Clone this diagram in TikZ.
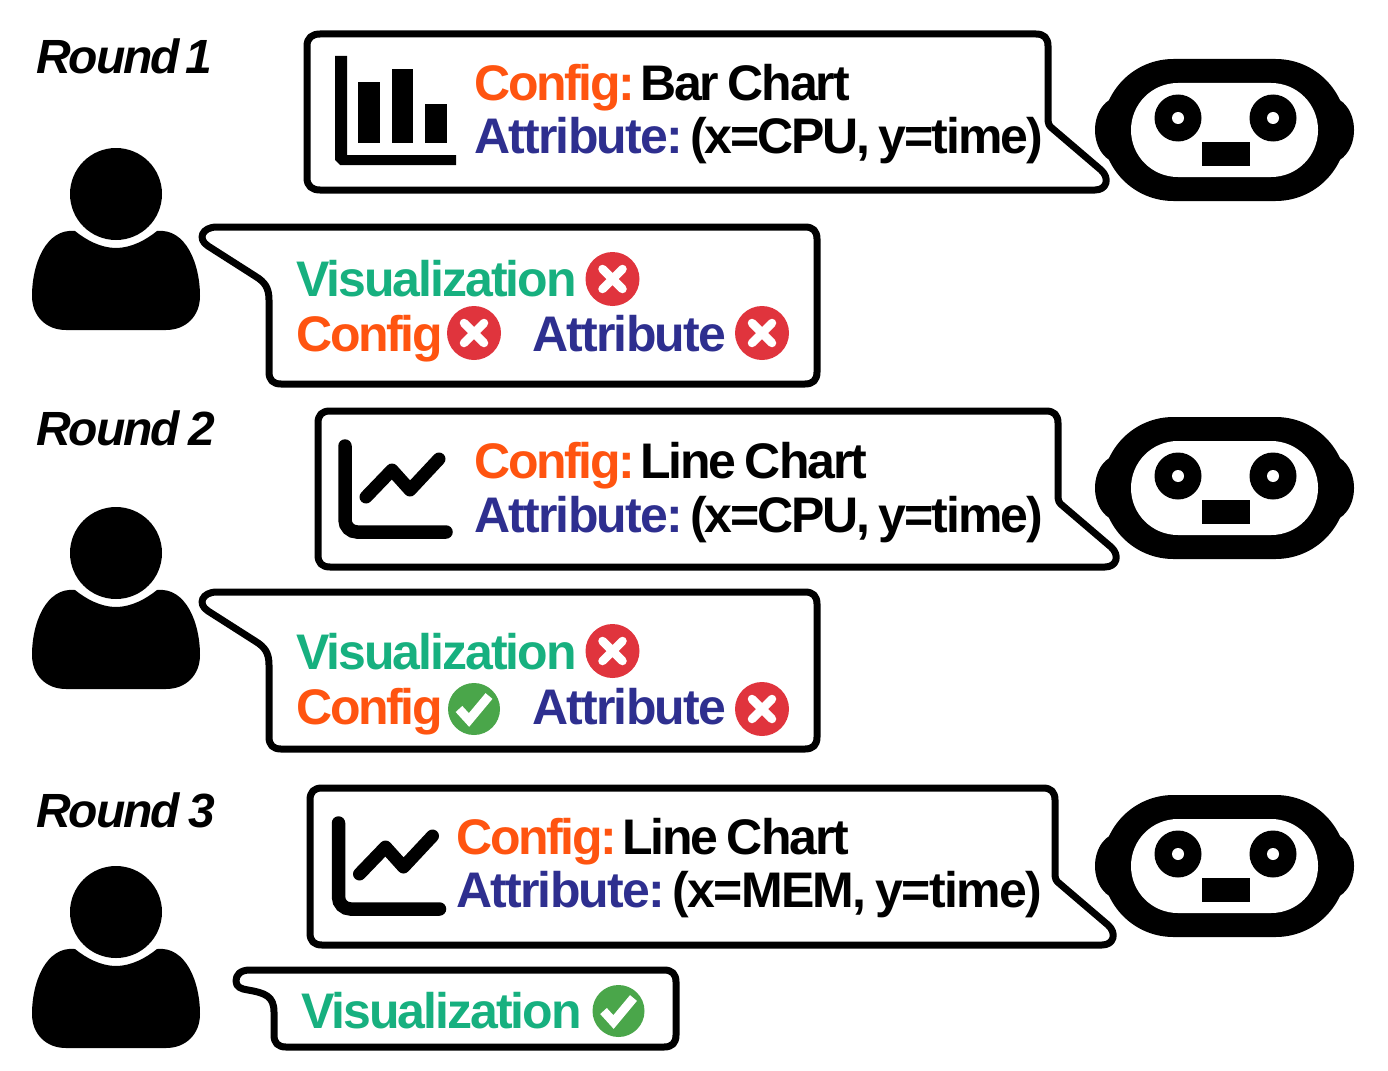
\documentclass[tikz,border=0pt]{standalone}
\usepackage{fontspec}
\setmainfont[LetterSpace=-4.2,WordSpace=0.7]{Liberation Sans}
\definecolor{cfg}{HTML}{FF5410}
\definecolor{attr}{HTML}{2E2F8F}
\definecolor{vis}{HTML}{17B07F}
\definecolor{badred}{HTML}{E0343D}
\definecolor{goodgreen}{HTML}{4AA64A}
\tikzset{
  x=1pt,y=-1pt,
  bubble/.style={draw=black,line width=7pt,line join=round},
  lab/.style={anchor=base west,inner sep=0pt,font=\fontsize{50}{50}\selectfont\bfseries},
  roundlab/.style={anchor=base west,inner sep=0pt,font=\fontsize{48}{48}\selectfont\bfseries\itshape},
  cfgt/.style={lab,text=cfg,font=\fontsize{50}{50}\selectfont\bfseries\addfontfeature{LetterSpace=-4.6}},
  attrt/.style={lab,text=attr,font=\fontsize{50}{50}\selectfont\bfseries\addfontfeature{LetterSpace=-3.6}},
  vist/.style={lab,text=vis,font=\fontsize{50}{50}\selectfont\bfseries\addfontfeature{LetterSpace=-4}},
  blackt/.style={lab,text=black},
  widet/.style={lab,text=black,font=\fontsize{50}{50}\selectfont\bfseries\addfontfeature{LetterSpace=-3.2}},
  person/.pic={
    \fill (0,0) circle[radius=46];
    \fill (-41,37) .. controls (-30,46) and (-15,54) .. (0,54)
          .. controls (15,54) and (30,46) .. (41,37)
          .. controls (70,34) and (84,70) .. (84,102)
          .. controls (84,122) and (70,136) .. (50,136)
          -- (-50,136)
          .. controls (-70,136) and (-84,122) .. (-84,102)
          .. controls (-84,70) and (-70,34) .. (-41,37) -- cycle;
  },
  robot/.pic={
    \fill (-105,0) ellipse[x radius=24.5,y radius=33];
    \fill (105,0) ellipse[x radius=24.5,y radius=33];
    \fill[rounded corners=70.9pt] (-122,-71) rectangle (122,71);
    \fill[white,rounded corners=46.9pt] (-93.5,-47) rectangle (93.5,47);
    \fill (-46.5,-12) circle[radius=23.5];
    \fill (48.5,-12) circle[radius=23.5];
    \fill[white] (-46.5,-12) circle[radius=6];
    \fill[white] (48.5,-12) circle[radius=6];
    \fill (-22.5,12) rectangle (25.5,36);
  },
  xmark/.pic={
    \fill[badred] (0,0) circle[radius=27];
    \draw[white,line width=8.5pt,line cap=round] (-10,-10) -- (10,10) (-10,10) -- (10,-10);
  },
  okmark/.pic={
    \fill[goodgreen] (0,0) circle[radius=26];
    \draw[white,line width=9pt,line join=miter] (-15,0) -- (-5,11) -- (15,-13);
  },
  linechart/.pic={
    \draw[line width=13.5pt,line cap=round,rounded corners=12pt] (0,0) -- (0,86) -- (101,86);
    \draw[line width=13pt,line cap=round,line join=round] (21,51) -- (47,24) -- (65,44) -- (94,13);
  },
  barchart/.pic={
    \fill (335,56) -- (347,56) -- (347,155) -- (456,155) -- (456,165) -- (340,165) -- (335,160) -- cycle;
    \fill (358,82) rectangle (380,143);
    \fill (392,69) rectangle (413,143);
    \fill (425,104) rectangle (447,143);
  }
}
\begin{document}
\begin{tikzpicture}
\useasboundingbox (0,0) rectangle (1388,1070);
% round labels
\node[roundlab] (r1) at (36,74) {Round\hspace{-3pt} 1};
\node[roundlab] (r2) at (36,445) {Round 2};
\node[roundlab] (r3) at (36,827) {Round 3};
% people
\pic at (116,194) {person};
\pic at (116,553) {person};
\pic at (116,912) {person};
% robots
\pic at (1224.5,130) {robot};
\pic at (1224.5,488) {robot};
\pic at (1224.5,866) {robot};
% system bubbles
\draw[bubble] (320,34) -- (1036,34) .. controls (1044,34) and (1048,38) .. (1048,46) -- (1048,118)
  .. controls (1048,124) and (1049,126) .. (1053,129) -- (1101,170)
  .. controls (1110,178) and (1107,190) .. (1095,190) -- (320,190)
  .. controls (312,190) and (307,186) .. (307,178) -- (307,46)
  .. controls (307,38) and (312,34) .. (320,34) -- cycle;
\draw[bubble] (330,411) -- (1046,411) .. controls (1054,411) and (1058,415) .. (1058,423) -- (1058,495)
  .. controls (1058,501) and (1059,503) .. (1063,506) -- (1111,547)
  .. controls (1120,555) and (1117,567) .. (1105,567) -- (330,567)
  .. controls (322,567) and (318,563) .. (318,555) -- (318,423)
  .. controls (318,415) and (322,411) .. (330,411) -- cycle;
\draw[bubble] (322,788) -- (1043,788) .. controls (1051,788) and (1055,792) .. (1055,800) -- (1055,873)
  .. controls (1055,879) and (1056,881) .. (1060,884) -- (1108,925)
  .. controls (1117,933) and (1114,945) .. (1102,945) -- (322,945)
  .. controls (314,945) and (310,941) .. (310,933) -- (310,800)
  .. controls (310,792) and (314,788) .. (322,788) -- cycle;
% user bubbles
\draw[bubble] (217,227) -- (805,227) .. controls (813,227) and (817,231) .. (817,239) -- (817,372)
  .. controls (817,380) and (813,384) .. (805,384) -- (281,384)
  .. controls (273,384) and (269,380) .. (269,372) -- (269,300)
  .. controls (269,288) and (265,282) .. (255,276) -- (208,246)
  .. controls (197,239) and (202,227) .. (217,227) -- cycle;
\draw[bubble] (217,592) -- (805,592) .. controls (813,592) and (817,596) .. (817,604) -- (817,737)
  .. controls (817,745) and (813,749) .. (805,749) -- (281,749)
  .. controls (273,749) and (269,745) .. (269,737) -- (269,665)
  .. controls (269,653) and (265,647) .. (255,641) -- (208,611)
  .. controls (197,604) and (202,592) .. (217,592) -- cycle;
\draw[bubble] (250,970) -- (664,970) .. controls (672,970) and (676,974) .. (676,982) -- (676,1035)
  .. controls (676,1043) and (672,1047) .. (664,1047) -- (286,1047)
  .. controls (278,1047) and (274,1043) .. (274,1035) -- (274,1012)
  .. controls (274,996) and (265,993) .. (248,990)
  .. controls (241,989) and (236,987) .. (236,981)
  .. controls (236,975) and (240,970) .. (250,970) -- cycle;
% icons
\pic at (0,0) {barchart};
\pic at (345,446) {linechart};
\pic at (338.5,823) {linechart};
% round 1 texts
\node[cfgt] (c1) at (474,101) {Config:};
\node[blackt] (c1v) at (640,101) {Bar Chart};
\node[attrt] (a1) at (474,153) {Attribute:};
\node[blackt] (a1v) at (690,153) {(x=CPU, y=time)};
\node[vist] (u1v) at (296,296) {Visualization};
\node[cfgt] (u1c) at (296,351) {Config};
\node[attrt] (u1a) at (532,351) {Attribute};
\pic at (612.5,279) {xmark};
\pic at (474,333) {xmark};
\pic at (762,333) {xmark};
% round 2 texts
\node[cfgt] (c2) at (474,478) {Config:};
\node[blackt] (c2v) at (640,478) {Line Chart};
\node[attrt] (a2) at (474,532) {Attribute:};
\node[blackt] (a2v) at (690,532) {(x=CPU, y=time)};
\node[vist] (u2v) at (296,669) {Visualization};
\node[cfgt] (u2c) at (296,724) {Config};
\node[attrt] (u2a) at (532,724) {Attribute};
\pic at (612.5,651) {xmark};
\pic at (474,709) {okmark};
\pic at (762,709) {xmark};
% round 3 texts
\node[cfgt] (c3) at (456,854) {Config:};
\node[blackt] (c3v) at (622,854) {Line Chart};
\node[attrt] (a3) at (456,907) {Attribute:};
\node[widet] (a3v) at (672,907) {(x=MEM, y=time)};
\node[vist] (u3v) at (301,1028) {Visualization};
\pic at (618.5,1011) {okmark};
\end{tikzpicture}
\end{document}
